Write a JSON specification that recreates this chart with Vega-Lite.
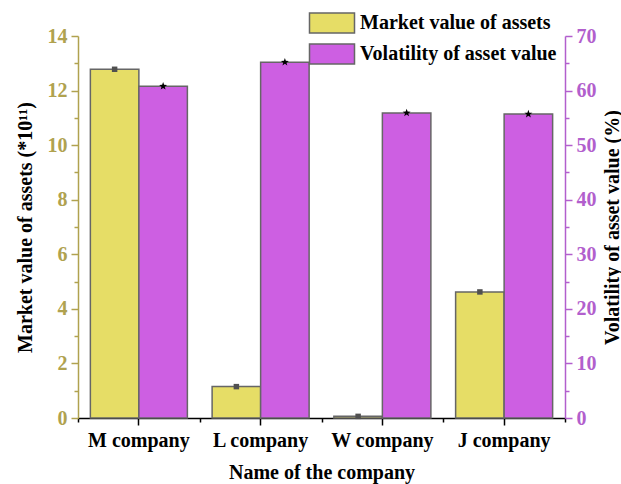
{
  "$schema": "https://vega.github.io/schema/vega-lite/v6.json",
  "width": 487,
  "height": 382,
  "autosize": {"type": "none"},
  "padding": {"left": 78, "top": 36, "right": 56, "bottom": 66},
  "background": "white",
  "config": {
    "view": {"stroke": null},
    "font": "Liberation Serif",
    "axis": {
      "grid": false,
      "labelFont": "Liberation Serif",
      "titleFont": "Liberation Serif",
      "labelFontWeight": "bold",
      "titleFontWeight": "bold",
      "labelFontSize": 20,
      "titleFontSize": 20,
      "titleColor": "black"
    },
    "legend": {
      "labelFont": "Liberation Serif",
      "labelFontWeight": "bold",
      "labelFontSize": 20,
      "labelColor": "black",
      "labelLimit": 0
    }
  },
  "data": {
    "values": [
      {"company": "M company", "series": "Market value of assets", "value": 12.78},
      {"company": "L company", "series": "Market value of assets", "value": 1.15},
      {"company": "W company", "series": "Market value of assets", "value": 0.06},
      {"company": "J company", "series": "Market value of assets", "value": 4.62},
      {"company": "M company", "series": "Volatility of asset value", "value": 60.8},
      {"company": "L company", "series": "Volatility of asset value", "value": 65.2},
      {"company": "W company", "series": "Volatility of asset value", "value": 55.9},
      {"company": "J company", "series": "Volatility of asset value", "value": 55.7}
    ]
  },
  "encoding": {
    "xOffset": {
      "field": "series",
      "type": "nominal",
      "scale": {
        "domain": ["Market value of assets", "Volatility of asset value"],
        "paddingInner": 0,
        "paddingOuter": 0.255
      }
    }
  },
  "layer": [
    {
      "transform": [{"filter": "datum.series === 'Market value of assets'"}],
      "encoding": {
        "x": {
          "field": "company",
          "type": "nominal",
          "sort": ["M company", "L company", "W company", "J company"],
          "scale": {"paddingInner": 0, "paddingOuter": 0},
          "axis": {
            "orient": "bottom",
            "title": "Name of the company",
            "labelAngle": 0,
            "labelColor": "black",
            "domainColor": "black",
            "domainWidth": 1.5,
            "tickColor": "black",
            "tickWidth": 1.5,
            "tickSize": 7,
            "labelPadding": 5,
            "titlePadding": 12
          }
        },
        "y": {
          "field": "value",
          "type": "quantitative",
          "scale": {"domain": [0, 14], "nice": false},
          "axis": {
            "orient": "left",
            "title": "Market value of assets (*10¹¹)",
            "values": [0, 1, 2, 3, 4, 5, 6, 7, 8, 9, 10, 11, 12, 13, 14],
            "labelExpr": "datum.value % 2 === 0 ? datum.label : ''",
            "labelColor": "#b0a24f",
            "domainColor": "#b0a24f",
            "domainWidth": 1.5,
            "tickColor": "#b0a24f",
            "tickWidth": 1.5,
            "tickSize": {"condition": {"test": "datum.value % 2 === 0", "value": 7}, "value": 4},
            "labelPadding": 4,
            "titlePadding": 12
          }
        }
      },
      "layer": [
        {
          "mark": {"type": "bar", "stroke": "#666666", "strokeWidth": 1.5, "opacity": 1},
          "encoding": {
            "color": {
              "field": "series",
              "type": "nominal",
              "scale": {
                "domain": ["Market value of assets", "Volatility of asset value"],
                "range": ["#e6dd66", "#cd5fe2"]
              },
              "legend": {
                "title": null,
                "orient": "none",
                "legendX": 243,
                "legendY": -24,
                "padding": 0,
                "symbolType": "M-2.25,-1H2.25V1H-2.25Z",
                "symbolSize": 400,
                "symbolStrokeColor": "#666666",
                "symbolStrokeWidth": 1.5,
                "symbolOpacity": 1,
                "labelOffset": 17,
                "rowPadding": 5
              }
            }
          }
        },
        {
          "mark": {"type": "point", "shape": "square", "filled": true, "size": 30, "opacity": 1},
          "encoding": {"color": {"value": "#505050"}}
        }
      ]
    },
    {
      "transform": [{"filter": "datum.series === 'Volatility of asset value'"}],
      "encoding": {
        "x": {
          "field": "company",
          "type": "nominal",
          "sort": ["M company", "L company", "W company", "J company"],
          "axis": null
        },
        "y": {
          "field": "value",
          "type": "quantitative",
          "scale": {"domain": [0, 70], "nice": false},
          "axis": {
            "orient": "right",
            "title": "Volatility of asset value (%)",
            "titleAngle": 270,
            "titleBaseline": "top",
            "values": [0, 5, 10, 15, 20, 25, 30, 35, 40, 45, 50, 55, 60, 65, 70],
            "labelExpr": "datum.value % 10 === 0 ? datum.label : ''",
            "labelColor": "#b25fcd",
            "domainColor": "#b25fcd",
            "domainWidth": 1.5,
            "tickColor": "#b25fcd",
            "tickWidth": 1.5,
            "tickSize": {"condition": {"test": "datum.value % 10 === 0", "value": 7}, "value": 4},
            "labelPadding": 4,
            "titlePadding": 6
          }
        }
      },
      "layer": [
        {
          "mark": {"type": "bar", "stroke": "#666666", "strokeWidth": 1.5, "opacity": 1},
          "encoding": {
            "color": {
              "field": "series",
              "type": "nominal",
              "scale": {
                "domain": ["Market value of assets", "Volatility of asset value"],
                "range": ["#e6dd66", "#cd5fe2"]
              }
            }
          }
        },
        {
          "mark": {"type": "point", "shape": "M0,-1L0.235,-0.324L0.951,-0.309L0.38,0.124L0.588,0.809L0,0.4L-0.588,0.809L-0.38,0.124L-0.951,-0.309L-0.235,-0.324Z", "filled": true, "size": 70, "opacity": 1},
          "encoding": {"color": {"value": "black"}}
        }
      ]
    },
    {
      "mark": {"type": "point", "opacity": 0},
      "encoding": {
        "x": {
          "field": "company",
          "type": "nominal",
          "sort": ["M company", "L company", "W company", "J company"],
          "axis": {
            "orient": "bottom",
            "title": null,
            "labels": false,
            "domain": false,
            "tickBand": "extent",
            "tickColor": "black",
            "tickWidth": 1.5,
            "tickSize": 4
          }
        },
        "color": {"value": "black"}
      }
    }
  ],
  "resolve": {
    "scale": {"y": "independent"},
    "axis": {"x": "independent", "y": "independent"}
  }
}
